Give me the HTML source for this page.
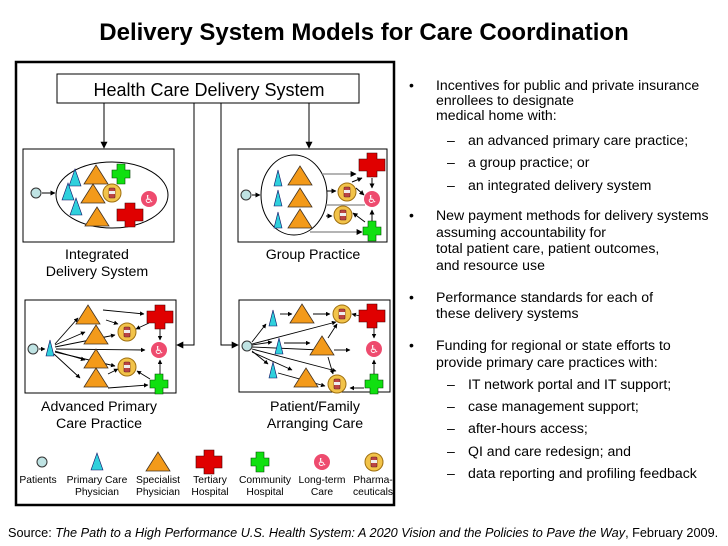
<!DOCTYPE html>
<html><head><meta charset="utf-8"><style>
html,body{margin:0;padding:0;background:#fff}
svg{display:block}
text{font-family:"Liberation Sans","DejaVu Sans",sans-serif;fill:#000}
</style></head><body>
<svg width="728" height="546" viewBox="0 0 728 546" xmlns="http://www.w3.org/2000/svg">
<defs>
<marker id="ah" viewBox="0 0 10 10" refX="9" refY="5" markerWidth="5" markerHeight="5" orient="auto"><path d="M0,0L10,5L0,10z" fill="#000"/></marker>
<marker id="ab" viewBox="0 0 10 10" refX="9" refY="5" markerWidth="7" markerHeight="7" orient="auto"><path d="M0,0L10,5L0,10z" fill="#000"/></marker>
<g id="pt"><circle r="5" fill="#bfe3e3" stroke="#333" stroke-width="1"/></g>
<g id="pc"><path d="M0,-9L6,8L-6,8z" fill="#2fd0dc" stroke="#116" stroke-width="0.6"/></g>
<g id="pcs"><path d="M0,-8L4,8L-4,8z" fill="#2fd0dc" stroke="#116" stroke-width="0.6"/></g>
<g id="sp"><path d="M0,-10L12,9L-12,9z" fill="#f39a1a" stroke="#432" stroke-width="0.8"/></g>
<g id="th"><path d="M-5,-12H5V-6H13V6H5V12H-5V6H-13V-6H-5z" fill="#e00000" stroke="#400" stroke-width="0.6"/></g>
<g id="ch"><path d="M-4,-10H4V-4H9V4H4V10H-4V4H-9V-4H-4z" fill="#10e010" stroke="#040" stroke-width="0.6"/></g>
<g id="lt"><circle r="8" fill="#ee4b6e"/><text x="0" y="4" font-size="11" text-anchor="middle" style="fill:#fff">♿</text></g>
<g id="ph"><circle r="9" fill="#f2c349" stroke="#a07010" stroke-width="1"/><rect x="-3" y="-5" width="6" height="10" rx="1" fill="#b44" stroke="#622" stroke-width="0.6"/><rect x="-3" y="-2" width="6" height="3" fill="#eee"/></g>
</defs>

<text x="364" y="40" font-size="24" font-weight="bold" text-anchor="middle">Delivery System Models for Care Coordination</text>

<rect x="16" y="62" width="378" height="443" fill="none" stroke="#000" stroke-width="2.5"/>
<rect x="57" y="74" width="302" height="29" fill="#fff" stroke="#000" stroke-width="1"/>
<text x="209" y="96" font-size="18" text-anchor="middle">Health Care Delivery System</text>

<g stroke="#000" stroke-width="1" fill="none">
<line x1="104" y1="103" x2="104" y2="148" marker-end="url(#ab)"/>
<line x1="309" y1="103" x2="309" y2="148" marker-end="url(#ab)"/>
<polyline points="194,103 194,345 177,345" marker-end="url(#ab)"/>
<polyline points="221,103 221,345 238,345" marker-end="url(#ab)"/>
</g>

<!-- Integrated -->
<rect x="23" y="149" width="151" height="93" fill="#fff" stroke="#000"/>
<ellipse cx="112" cy="195" rx="56" ry="33" fill="none" stroke="#000"/>
<use href="#pt" x="36" y="193"/>
<line x1="42" y1="193" x2="55" y2="193" stroke="#000" marker-end="url(#ah)"/>
<use href="#pc" x="75" y="178"/><use href="#pc" x="68" y="192"/><use href="#pc" x="76" y="207"/>
<use href="#sp" x="96" y="175"/><use href="#sp" x="93" y="194"/><use href="#sp" x="97" y="217"/>
<use href="#ch" x="121" y="174"/><use href="#ph" x="112" y="193"/><use href="#lt" x="149" y="199"/><use href="#th" x="130" y="215"/>
<text x="97" y="259" font-size="14.2" text-anchor="middle">Integrated</text>
<text x="97" y="276" font-size="14.2" text-anchor="middle">Delivery  System</text>

<!-- Group -->
<rect x="238" y="149" width="149" height="93" fill="#fff" stroke="#000"/>
<ellipse cx="294" cy="195" rx="33" ry="40" fill="none" stroke="#000"/>
<use href="#pt" x="246" y="195"/>
<line x1="252" y1="195" x2="260" y2="195" stroke="#000" marker-end="url(#ah)"/>
<use href="#pcs" x="278" y="178"/><use href="#pcs" x="278" y="198"/><use href="#pcs" x="278" y="220"/>
<use href="#sp" x="300" y="176"/><use href="#sp" x="300" y="198"/><use href="#sp" x="300" y="219"/>
<g stroke="#888" stroke-width="1.2" fill="none">
<line x1="322" y1="174" x2="356" y2="174" marker-end="url(#ah)"/>
<line x1="326" y1="205" x2="365" y2="205"/>
<line x1="310" y1="232" x2="362" y2="232" marker-end="url(#ah)"/>
</g>
<g stroke="#000" stroke-width="1" fill="none">
<line x1="327" y1="191" x2="336" y2="191" marker-end="url(#ah)"/>
<line x1="326" y1="216" x2="332" y2="216" marker-end="url(#ah)"/>
<line x1="372" y1="178" x2="372" y2="188" marker-end="url(#ah)"/>
<line x1="372" y1="222" x2="372" y2="210" marker-end="url(#ah)"/>
<line x1="365" y1="222" x2="353" y2="213" marker-end="url(#ah)"/>
<line x1="356" y1="188" x2="364" y2="195" marker-end="url(#ah)"/>
<line x1="352" y1="182" x2="362" y2="178" marker-end="url(#ah)"/>
</g>
<use href="#th" x="372" y="165"/><use href="#ph" x="347" y="192"/><use href="#ph" x="343" y="215"/><use href="#lt" x="372" y="199"/><use href="#ch" x="372" y="231"/>
<text x="313" y="259" font-size="14.2" text-anchor="middle">Group Practice</text>

<!-- Advanced primary -->
<rect x="25" y="300" width="151" height="93" fill="#fff" stroke="#000"/>
<g stroke="#000" stroke-width="0.9" fill="none">
<line x1="39" y1="349" x2="45" y2="349" marker-end="url(#ah)"/>
<line x1="55" y1="344" x2="78" y2="318" marker-end="url(#ah)"/>
<line x1="55" y1="345" x2="85" y2="332" marker-end="url(#ah)"/>
<line x1="55" y1="347" x2="115" y2="335" marker-end="url(#ah)"/>
<line x1="56" y1="349" x2="145" y2="350" marker-end="url(#ah)"/>
<line x1="55" y1="351" x2="85" y2="360" marker-end="url(#ah)"/>
<line x1="55" y1="352" x2="115" y2="366" marker-end="url(#ah)"/>
<line x1="54" y1="354" x2="80" y2="378" marker-end="url(#ah)"/>
<line x1="103" y1="310" x2="144" y2="314" marker-end="url(#ah)"/>
<line x1="106" y1="320" x2="118" y2="324" marker-end="url(#ah)"/>
<line x1="149" y1="323" x2="136" y2="329" marker-end="url(#ah)"/>
<line x1="160" y1="328" x2="160" y2="340" marker-end="url(#ah)"/>
<line x1="108" y1="374" x2="118" y2="369" marker-end="url(#ah)"/>
<line x1="150" y1="379" x2="137" y2="371" marker-end="url(#ah)"/>
<line x1="160" y1="374" x2="160" y2="360" marker-end="url(#ah)"/>
<line x1="108" y1="388" x2="148" y2="385" marker-end="url(#ah)"/>
</g>
<use href="#pt" x="33" y="349"/><use href="#pcs" x="50" y="348"/>
<use href="#sp" x="88" y="315"/><use href="#sp" x="96" y="335"/><use href="#sp" x="96" y="359"/><use href="#sp" x="96" y="378"/>
<use href="#th" x="160" y="317"/><use href="#ph" x="127" y="332"/><use href="#ph" x="127" y="367"/><use href="#lt" x="159" y="350"/><use href="#ch" x="159" y="384"/>
<text x="99" y="411" font-size="14.2" text-anchor="middle">Advanced Primary</text>
<text x="99" y="428" font-size="14.2" text-anchor="middle">Care Practice</text>

<!-- Patient/Family -->
<rect x="239" y="300" width="151" height="92" fill="#fff" stroke="#000"/>
<g stroke="#000" stroke-width="0.9" fill="none">
<line x1="252" y1="342" x2="266" y2="324" marker-end="url(#ah)"/>
<line x1="252" y1="344" x2="336" y2="322" marker-end="url(#ah)"/>
<line x1="252" y1="345" x2="272" y2="342" marker-end="url(#ah)"/>
<line x1="252" y1="347" x2="320" y2="350" marker-end="url(#ah)"/>
<line x1="252" y1="349" x2="336" y2="371" marker-end="url(#ah)"/>
<line x1="252" y1="351" x2="268" y2="364" marker-end="url(#ah)"/>
<line x1="252" y1="352" x2="292" y2="370" marker-end="url(#ah)"/>
<line x1="280" y1="314" x2="292" y2="314" marker-end="url(#ah)"/>
<line x1="313" y1="314" x2="330" y2="314" marker-end="url(#ah)"/>
<line x1="284" y1="343" x2="310" y2="343" marker-end="url(#ah)"/>
<line x1="334" y1="350" x2="350" y2="350" marker-end="url(#ah)"/>
<line x1="328" y1="338" x2="337" y2="324" marker-end="url(#ah)"/>
<line x1="328" y1="357" x2="333" y2="374" marker-end="url(#ah)"/>
<line x1="278" y1="373" x2="325" y2="386" marker-end="url(#ah)"/>
<line x1="360" y1="316" x2="352" y2="314" marker-end="url(#ah)"/>
<line x1="374" y1="328" x2="374" y2="338" marker-end="url(#ah)"/>
<line x1="374" y1="374" x2="374" y2="360" marker-end="url(#ah)"/>
<line x1="364" y1="388" x2="350" y2="388" marker-end="url(#ah)"/>
</g>
<use href="#pt" x="247" y="346"/>
<use href="#pcs" x="273" y="318"/><use href="#pcs" x="279" y="346"/><use href="#pcs" x="273" y="370"/>
<use href="#sp" x="302" y="314"/><use href="#sp" x="322" y="346"/><use href="#sp" x="306" y="378"/>
<use href="#ph" x="342" y="314"/><use href="#ph" x="337" y="384"/><use href="#th" x="372" y="316"/><use href="#lt" x="374" y="349"/><use href="#ch" x="374" y="384"/>
<text x="315" y="411" font-size="14.2" text-anchor="middle">Patient/Family</text>
<text x="315" y="428" font-size="14.2" text-anchor="middle">Arranging Care</text>

<!-- legend -->
<use href="#pt" x="42" y="462"/><use href="#pc" x="97" y="462"/><use href="#sp" x="158" y="462"/>
<use href="#th" x="209" y="462"/><use href="#ch" x="260" y="462"/><use href="#lt" x="322" y="462"/><use href="#ph" x="374" y="462"/>
<g font-size="10.3" text-anchor="middle">
<text x="38" y="483">Patients</text>
<text x="97" y="483">Primary Care</text><text x="97" y="495">Physician</text>
<text x="158" y="483">Specialist</text><text x="158" y="495">Physician</text>
<text x="210" y="483">Tertiary</text><text x="210" y="495">Hospital</text>
<text x="265" y="483">Community</text><text x="265" y="495">Hospital</text>
<text x="322" y="483">Long-term</text><text x="322" y="495">Care</text>
<text x="373" y="483">Pharma-</text><text x="373" y="495">ceuticals</text>
</g>

<!-- right text -->
<g font-size="14.1">
<text x="409" y="90">•</text>
<text x="436" y="90">Incentives for public and private insurance</text>
<text x="436" y="105">enrollees to designate</text>
<text x="436" y="120">medical home with:</text>
<text x="447" y="145">–</text><text x="468" y="145">an advanced primary care practice;</text>
<text x="447" y="167">–</text><text x="468" y="167">a group practice; or</text>
<text x="447" y="190">–</text><text x="468" y="190">an integrated delivery system</text>
<text x="409" y="220">•</text>
<text x="436" y="220">New payment methods for delivery systems</text>
<text x="436" y="237">assuming accountability for</text>
<text x="436" y="253">total patient care, patient outcomes,</text>
<text x="436" y="270">and resource use</text>
<text x="409" y="302">•</text>
<text x="436" y="302">Performance standards for each of</text>
<text x="436" y="318">these delivery systems</text>
<text x="409" y="350">•</text>
<text x="436" y="350">Funding for regional or state efforts to</text>
<text x="436" y="367">provide primary care practices with:</text>
<text x="447" y="389">–</text><text x="468" y="389">IT network portal and IT support;</text>
<text x="447" y="411">–</text><text x="468" y="411">case management support;</text>
<text x="447" y="433">–</text><text x="468" y="433">after-hours access;</text>
<text x="447" y="456">–</text><text x="468" y="456">QI and care redesign; and</text>
<text x="447" y="478">–</text><text x="468" y="478">data reporting and profiling feedback</text>
</g>

<text x="8" y="537" font-size="12.7">Source: <tspan font-style="italic">The Path to a High Performance U.S. Health System: A 2020 Vision and the Policies to Pave the Way</tspan>, February 2009.</text>
</svg>
</body></html>
